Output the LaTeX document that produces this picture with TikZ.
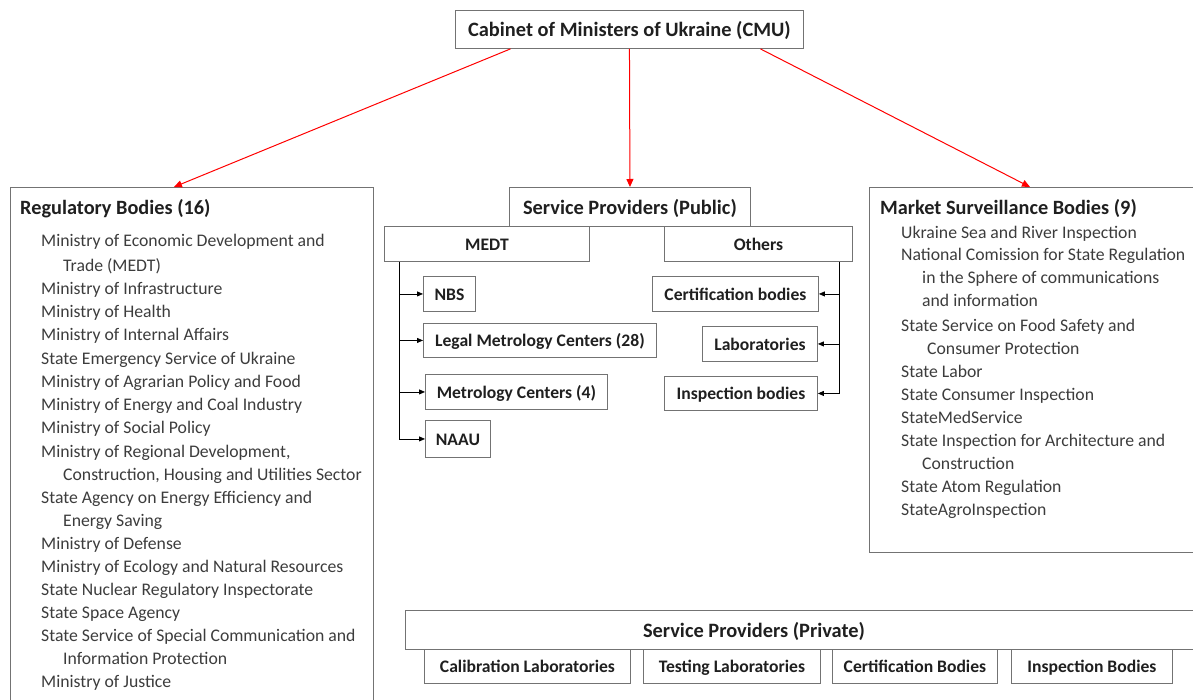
\documentclass[tikz,border=0pt]{standalone}
\usepackage{fontspec}
\setmainfont{Carlito}
\usetikzlibrary{arrows.meta}
\definecolor{boxgray}{RGB}{115,115,115}
\definecolor{itemgray}{RGB}{60,60,60}
\tikzset{
  box/.style={draw=boxgray, line width=0.9pt, anchor=north west, inner sep=0pt,
    text height=14.5pt, text depth=1.5pt,
    font=\fontsize{17.6}{20}\selectfont\bfseries, text=black!88},
  bigbox/.style={box, text height=16.5pt, text depth=1.5pt, font=\fontsize{20.4}{24}\selectfont\bfseries},
  panel/.style={draw=boxgray, line width=0.9pt, anchor=north west, inner sep=0pt},
  paneltitle/.style={anchor=west, inner sep=0pt, text height=16pt, text depth=2pt,
    font=\fontsize{20.3}{24}\selectfont\bfseries, text=black!88},
  item/.style={anchor=west, inner sep=0pt, text height=14pt, text depth=2pt,
    font=\fontsize{17.7}{20}\selectfont, text=itemgray},
  redarrow/.style={red, line width=1pt, -{Triangle[length=8pt,width=7pt]}},
  branch/.style={black, line width=0.8pt, -{Triangle[length=6pt,width=5pt]}},
}
\begin{document}
\begin{tikzpicture}[x=1pt,y=-1pt]
\useasboundingbox (0,0) rectangle (1193,700);
\clip (0,0) rectangle (1193,700);

\node[bigbox, minimum width=348pt, minimum height=38pt] (cmu) at (455,10) {Cabinet of Ministers of Ukraine (CMU)};

% regulatory bodies
\node[panel, minimum width=363pt, minimum height=530pt] (reg) at (10,187) {};
\node[paneltitle] (regtitle) at (20,208) {Regulatory Bodies (16)};
\foreach \y/\x/\t [count=\i] in {
  241/41/{Ministry of Economic Development and},
  266/63/{Trade (MEDT)},
  289/41/{Ministry of Infrastructure},
  312/41/{Ministry of Health},
  335/41/{Ministry of Internal Affairs},
  358/41/{State Emergency Service of Ukraine},
  381/41/{Ministry of Agrarian Policy and Food},
  404/41/{Ministry of Energy and Coal Industry},
  427/41/{Ministry of Social Policy},
  451/41/{Ministry of Regional Development,},
  474/63/{Construction, Housing and Utilities Sector},
  497/41/{State Agency on Energy Efficiency and},
  520/63/{Energy Saving},
  543/41/{Ministry of Defense},
  566/41/{Ministry of Ecology and Natural Resources},
  589/41/{State Nuclear Regulatory Inspectorate},
  612/41/{State Space Agency},
  635/41/{State Service of Special Communication and},
  658/63/{Information Protection},
  681/41/{Ministry of Justice}}
  \node[item] (reg\i) at (\x,\y) {\t};

% public service providers
\node[bigbox, minimum width=241pt, minimum height=39pt] (spub) at (509,187) {Service Providers (Public)};
\node[box, minimum width=205pt, minimum height=35pt] (medt) at (384,226) {MEDT};
\node[box, minimum width=188pt, minimum height=35pt] (others) at (664,226) {Others};

\node[box, minimum width=52pt, minimum height=35pt] (nbs) at (423,276) {NBS};
\node[box, minimum width=233pt, minimum height=34pt] (legal) at (423,323) {Legal Metrology Centers (28)};
\node[box, minimum width=182pt, minimum height=35pt] (metro) at (425,374) {Metrology Centers (4)};
\node[box, minimum width=65pt, minimum height=37pt] (naau) at (425,420) {NAAU};

\node[box, minimum width=166pt, minimum height=35pt] (cert) at (652,276) {Certification bodies};
\node[box, minimum width=115pt, minimum height=35pt] (labs) at (702,326) {Laboratories};
\node[box, minimum width=153pt, minimum height=34pt] (insp) at (664,376) {Inspection bodies};

\draw[branch] ([xshift=15pt]medt.south west) |- (nbs.west);
\draw[branch] ([xshift=15pt]medt.south west) |- (legal.west);
\draw[branch] ([xshift=15pt]medt.south west) |- (metro.west);
\draw[branch] ([xshift=15pt]medt.south west) |- (naau.west);
\draw[branch] ([xshift=-14pt]others.south east) |- (cert.east);
\draw[branch] ([xshift=-14pt]others.south east) |- (labs.east);
\draw[branch] ([xshift=-14pt]others.south east) |- (insp.east);

% market surveillance bodies
\node[panel, minimum width=340pt, minimum height=365pt] (mkt) at (869,187) {};
\node[paneltitle] (mkttitle) at (880,208) {Market Surveillance Bodies (9)};
\foreach \y/\x/\t [count=\i] in {
  233/901/{Ukraine Sea and River Inspection},
  255/901/{National Comission for State Regulation},
  278/922/{in the Sphere of communications},
  301/922/{and information},
  325/901/{State Service on Food Safety and},
  348/927/{Consumer Protection},
  371/901/{State Labor},
  394/901/{State Consumer Inspection},
  417/901/{StateMedService},
  440/901/{State Inspection for Architecture and},
  463/922/{Construction},
  486/901/{State Atom Regulation},
  509/901/{StateAgroInspection}}
  \node[item] (mkt\i) at (\x,\y) {\t};

% private service providers
\node[box, minimum width=800pt, minimum height=39pt] (spriv) at (405,610) {};
\node[bigbox, draw=none] (sprivtext) at (754,630) [anchor=center] {Service Providers (Private)};
\node[box, minimum width=206pt, minimum height=34pt] (calib) at (424,649) {Calibration Laboratories};
\node[box, minimum width=177pt, minimum height=34pt] (test) at (643,649) {Testing Laboratories};
\node[box, minimum width=165pt, minimum height=34pt] (pcert) at (832,649) {Certification Bodies};
\node[box, minimum width=161pt, minimum height=34pt] (pinsp) at (1011,649) {Inspection Bodies};

\draw[redarrow] ([xshift=-119pt]cmu.south) -- ([xshift=-18pt]reg.north);
\draw[redarrow] (cmu.south) -- (spub.north);
\draw[redarrow] ([xshift=131pt]cmu.south) -- ([xshift=161pt]mkt.north west);

\end{tikzpicture}
\end{document}
